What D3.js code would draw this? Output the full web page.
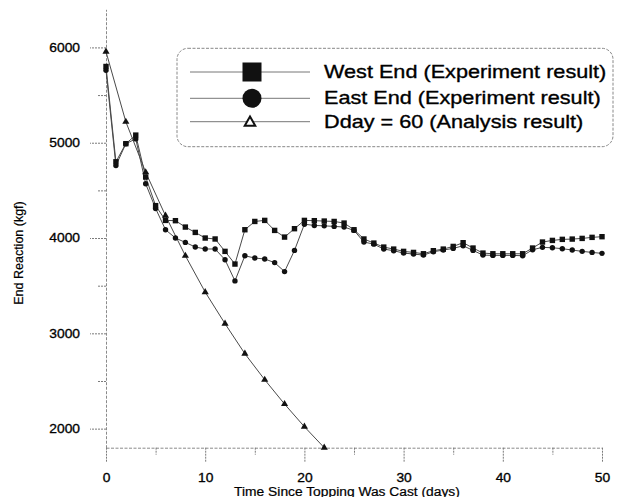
<!DOCTYPE html>
<html><head><meta charset="utf-8">
<script src="https://cdn.jsdelivr.net/npm/d3@7"></script>
<style>body{margin:0;background:#fff} svg{display:block}</style>
</head><body>
<svg id="c" width="620" height="497"></svg>
<script>
const days = [0,1,2,3,4,5,6,7,8,9,10,11,12,13,14,15,16,17,18,19,20,21,22,23,24,25,26,27,28,29,30,31,32,33,34,35,36,37,38,39,40,41,42,43,44,45,46,47,48,49,50];
const westEnd = [5800,4800,4990,5080,4640,4340,4185,4182,4115,4059,4000,3990,3860,3727,4087,4174,4185,4080,4010,4098,4185,4182,4178,4174,4157,4087,3990,3947,3905,3884,3860,3849,3835,3867,3884,3912,3951,3895,3842,3835,3835,3835,3835,3895,3958,3975,3986,3989,3996,4007,4014];
const eastEnd = [5760,4760,4990,5040,4570,4310,4087,4000,3954,3906,3885,3885,3772,3550,3814,3790,3780,3742,3648,3870,4145,4132,4128,4122,4115,4080,3958,3936,3884,3867,3842,3832,3821,3856,3874,3891,3919,3870,3821,3818,3818,3818,3814,3877,3902,3898,3888,3874,3860,3849,3839];
const analysisDays = [0,2,4,6,8,10,12,14,16,18,20,22];
const analysis = [5955,5220,4690,4234,3814,3433,3101,2786,2513,2258,2020,1800];
const xTicks = [0,10,20,30,40,50];
const xMinorTicks = [5,15,25,35,45];
const yTicks = [2000,3000,4000,5000,6000];
const yMinorTicks = [2500,3500,4500,5500];
const legendLabels = ["West End (Experiment result)","East End (Experiment result)","Dday = 60 (Analysis result)"];
const xTitle = "Time Since Topping Was Cast (days)";
const yTitle = "End Reaction (kgf)";

const FONT = "'Liberation Sans', Arial, Helvetica, sans-serif";
const STRETCH = 1.15;
function stretch(sel, f){
  sel.each(function(){
    const L = this.getComputedTextLength();
    this.setAttribute("textLength", L*(f||STRETCH));
    this.setAttribute("lengthAdjust","spacingAndGlyphs");
  });
}
function heavy(sel, w){ sel.attr("stroke","#000").attr("stroke-width",w||0.3).attr("paint-order","stroke"); }

const svg = d3.select("#c");
const x = d3.scaleLinear().domain([0,50]).range([106,602]);
const y = d3.scaleLinear().domain([1800,6400]).range([447.7,9.3]);

function styleAxis(g){
  g.select(".domain").attr("stroke","#8a8a8a").attr("stroke-dasharray","3,1.5");
  g.selectAll(".tick line").attr("stroke","#7a7a7a").attr("stroke-dasharray","2,1");
  g.selectAll(".tick text").attr("font-family",FONT).attr("font-size",12).attr("fill","#000");
}

// x axis
const gx = svg.append("g").attr("transform","translate(0,447.7)")
  .call(d3.axisBottom(x).tickValues(xTicks).tickSize(14).tickSizeOuter(0).tickPadding(11.5).tickFormat(d3.format("d")));
styleAxis(gx); gx.attr("font-family",FONT);
stretch(gx.selectAll(".tick text")); heavy(gx.selectAll(".tick text"));
const gxm = svg.append("g").attr("transform","translate(0,447.7)")
  .call(d3.axisBottom(x).tickValues(xMinorTicks).tickSize(7).tickFormat(""));
gxm.select(".domain").remove(); styleAxis(gxm);

// y axis
const gy = svg.append("g").attr("transform","translate(106,0)")
  .call(d3.axisLeft(y).tickValues(yTicks).tickSize(16).tickSizeOuter(0).tickPadding(10).tickFormat(d3.format("d")));
styleAxis(gy); gy.attr("font-family",FONT);
stretch(gy.selectAll(".tick text")); heavy(gy.selectAll(".tick text"));
const gym = svg.append("g").attr("transform","translate(106,0)")
  .call(d3.axisLeft(y).tickValues(yMinorTicks).tickSize(8).tickFormat(""));
gym.select(".domain").remove(); styleAxis(gym);

// titles
const xt = svg.append("text").attr("x",347).attr("y",495.5).attr("text-anchor","middle")
  .attr("font-family",FONT).attr("font-size",12).attr("fill","#000").text(xTitle);
stretch(xt); heavy(xt, 0.2);
const yt = svg.append("text").attr("transform","translate(22.5,253) rotate(-90)").attr("text-anchor","middle")
  .attr("font-family",FONT).attr("font-size",12.5).attr("fill","#000").text(yTitle);
heavy(yt, 0.2);

// series
const line = d3.line().x(d=>x(d[0])).y(d=>y(d[1]));
const westPts = days.map((d,i)=>[d,westEnd[i]]);
const eastPts = days.map((d,i)=>[d,eastEnd[i]]);
const anPts = analysisDays.map((d,i)=>[d,analysis[i]]);

[anPts, eastPts, westPts].forEach(p=>{
  svg.append("path").attr("d",line(p)).attr("fill","none").attr("stroke","#4a4a4a").attr("stroke-width",1);
});

svg.append("g").selectAll("path").data(anPts).join("path")
  .attr("transform",d=>`translate(${x(d[0])},${y(d[1])})`)
  .attr("d",d3.symbol(d3.symbolTriangle,22)).attr("fill","#111");
svg.append("g").selectAll("circle").data(eastPts).join("circle")
  .attr("cx",d=>x(d[0])).attr("cy",d=>y(d[1])).attr("r",2.7).attr("fill","#111");
svg.append("g").selectAll("rect").data(westPts).join("rect")
  .attr("x",d=>x(d[0])-2.7).attr("y",d=>y(d[1])-2.7).attr("width",5.4).attr("height",5.4).attr("fill","#111");

// legend
const lg = svg.append("g");
lg.append("rect").attr("x",177).attr("y",48.3).attr("width",436).attr("height",98.4).attr("rx",11)
  .attr("fill","#fff").attr("stroke","#888").attr("stroke-dasharray","3,1.5");
const rowsY = [72, 98.3, 121.7];
const baseY = [77.5, 103.5, 128.3];
rowsY.forEach((ry,i)=>{
  lg.append("line").attr("x1",190).attr("x2",310).attr("y1",ry).attr("y2",ry).attr("stroke","#777").attr("stroke-width",1);
  const t = lg.append("text").attr("x",324).attr("y",baseY[i]).attr("font-family",FONT).attr("font-size",18.5)
    .attr("fill","#000").text(legendLabels[i]);
  stretch(t, 1.17); heavy(t, 0.35);
});
lg.append("rect").attr("x",242.5).attr("y",rowsY[0]-9.5).attr("width",19).attr("height",19).attr("fill","#111");
lg.append("circle").attr("cx",252).attr("cy",rowsY[1]).attr("r",9.5).attr("fill","#111");
lg.append("path").attr("transform",`translate(250,${rowsY[2]+1})`).attr("d",d3.symbol(d3.symbolTriangle,48))
  .attr("fill","#fff").attr("stroke","#111").attr("stroke-width",2);
</script>
</body></html>
